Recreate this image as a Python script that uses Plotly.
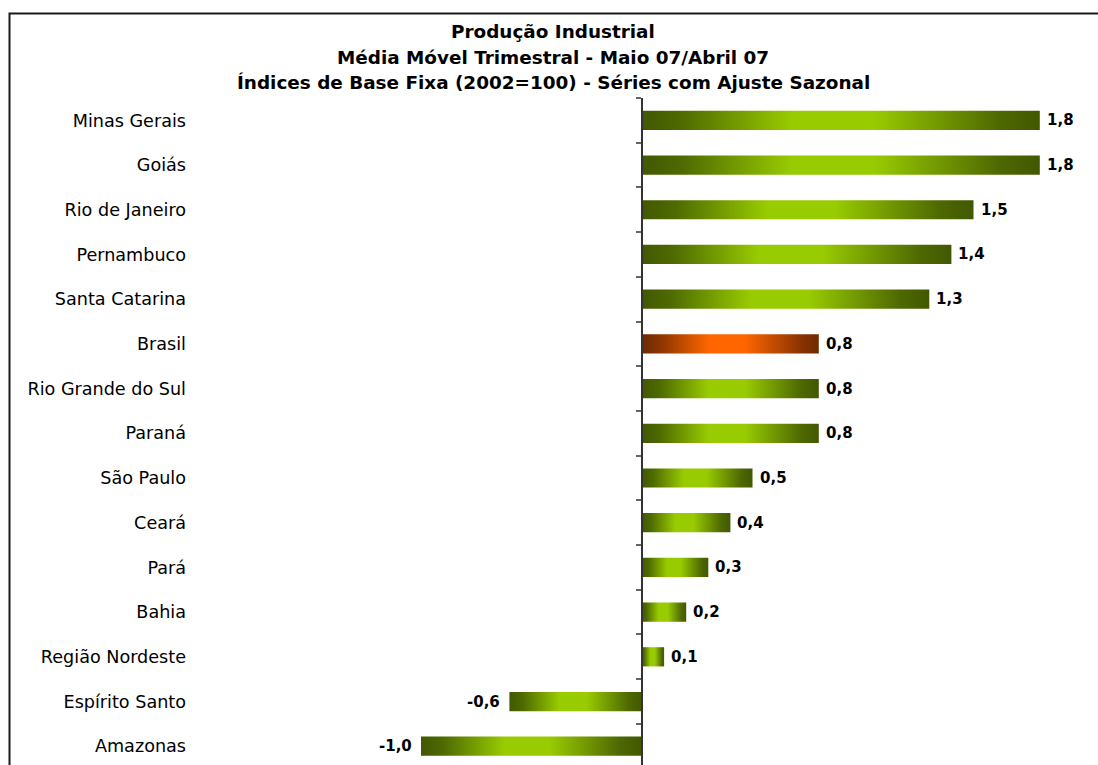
import plotly.graph_objects as go

categories = ["Minas Gerais", "Goiás", "Rio de Janeiro", "Pernambuco", "Santa Catarina",
              "Brasil", "Rio Grande do Sul", "Paraná", "São Paulo", "Ceará", "Pará",
              "Bahia", "Região Nordeste", "Espírito Santo", "Amazonas"]
values = [1.8, 1.8, 1.5, 1.4, 1.3, 0.8, 0.8, 0.8, 0.5, 0.4, 0.3, 0.2, 0.1, -0.6, -1.0]
value_labels = ["1,8", "1,8", "1,5", "1,4", "1,3", "0,8", "0,8", "0,8", "0,5", "0,4",
                "0,3", "0,2", "0,1", "-0,6", "-1,0"]
title_lines = ["Produção Industrial",
               "Média Móvel Trimestral - Maio 07/Abril 07",
               "Índices de Base Fixa (2002=100) - Séries com Ajuste Sazonal"]
highlight = "Brasil"

GREEN_SCALE = [[0, "#425800"], [0.1, "#4e6a00"], [0.38, "#99cc00"], [0.58, "#99cc00"],
               [0.9, "#4e6800"], [1, "#425800"]]
ORANGE_SCALE = [[0, "#6e2a00"], [0.1, "#8a3400"], [0.38, "#ff6600"], [0.58, "#ff6600"],
                [0.9, "#8a3300"], [1, "#6e2a00"]]

FONT = "DejaVu Sans, Verdana, sans-serif"
W, H = 1098, 765
ML, MR, MT, MB = 200, 14, 98, 0
HALF = 0.215  # half bar thickness in category units

fig = go.Figure()
for i, (cat, v) in enumerate(zip(categories, values)):
    fig.add_trace(go.Scatter(
        x=[0, v, v, 0, 0],
        y=[i - HALF, i - HALF, i + HALF, i + HALF, i - HALF],
        mode="lines", line=dict(width=0), fill="toself",
        fillgradient=dict(type="horizontal",
                          colorscale=ORANGE_SCALE if cat == highlight else GREEN_SCALE),
        hoverinfo="skip", showlegend=False))

for i, (v, lab) in enumerate(zip(values, value_labels)):
    fig.add_annotation(x=v, y=i, xref="x", yref="y", text=f"<b>{lab}</b>",
                       showarrow=False, xanchor="left" if v >= 0 else "right",
                       yanchor="middle", xshift=5 if v >= 0 else -7,
                       font=dict(family=FONT, size=15, color="black"))

# invisible trace for the secondary (zero-position) axis
fig.add_trace(go.Scatter(x=[0], y=[0], yaxis="y2", mode="markers",
                         marker=dict(opacity=0), hoverinfo="skip", showlegend=False))

yrange = [14.42, -0.5]
fig.update_layout(
    width=W, height=H, margin=dict(l=ML, r=MR, t=MT, b=MB),
    paper_bgcolor="white", plot_bgcolor="white",
    xaxis=dict(range=[-2, 2], visible=False, fixedrange=True),
    yaxis=dict(range=yrange, tickvals=list(range(len(categories))), ticktext=categories,
               showline=False, showgrid=False, zeroline=False, ticks="",
               ticklabelstandoff=13,
               tickfont=dict(family=FONT, size=17.6, color="black")),
    yaxis2=dict(range=yrange, overlaying="y", anchor="free", position=0.5, side="left",
                showline=True, linecolor="#333333", linewidth=2,
                ticks="outside", ticklen=5, tickwidth=2, tickcolor="#666666",
                tickvals=[k + 0.5 for k in range(-1, len(categories))],
                showticklabels=False, showgrid=False, zeroline=False),
    showlegend=False,
)

cx = (553 - ML) / (W - ML - MR)
pw, ph = W - ML - MR, H - MT - MB
for txt, py in zip(title_lines, [32, 57, 82]):
    fig.add_annotation(text=f"<b>{txt}</b>", xref="paper", yref="paper",
                       x=cx, y=1 + (MT - py) / ph, xanchor="center", yanchor="middle",
                       showarrow=False, font=dict(family=FONT, size=18.4, color="black"))

fig.add_shape(type="rect", xref="paper", yref="paper",
              x0=(9.5 - ML) / pw, x1=(W + 20 - ML) / pw,
              y0=-0.1, y1=1 + (MT - 13.5) / ph,
              line=dict(color="#1a1a1a", width=2), fillcolor="rgba(0,0,0,0)", layer="below")

fig.write_html("out.html")
